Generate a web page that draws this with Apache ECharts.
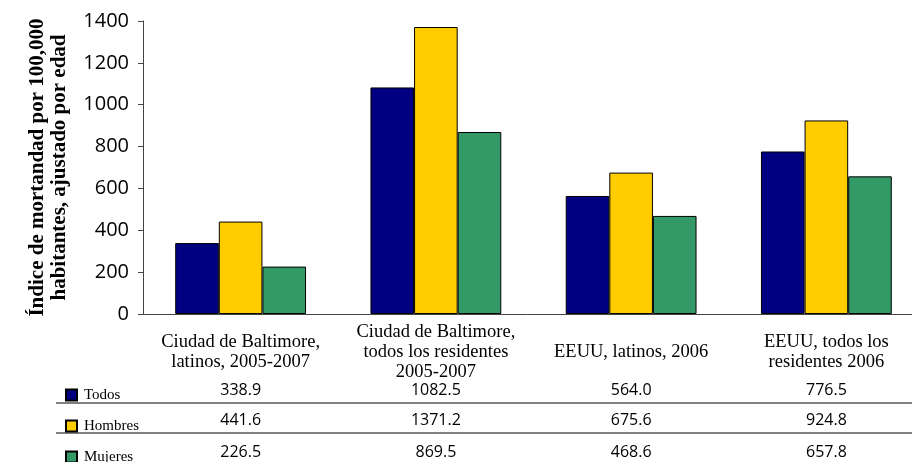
<!DOCTYPE html>
<html>
<head>
<meta charset="utf-8">
<script src="https://cdn.jsdelivr.net/npm/echarts@6/dist/echarts.min.js"></script>
<style>
  html, body { margin: 0; padding: 0; background: #fff; }
  #chart { width: 912px; height: 462px; }
</style>
</head>
<body>
<div id="chart"></div>
<script>
// categorias del eje x
var categories = [
  'Ciudad de Baltimore,\nlatinos, 2005-2007',
  'Ciudad de Baltimore,\ntodos los residentes\n2005-2007',
  'EEUU, latinos, 2006',
  'EEUU, todos los\nresidentes 2006'
];
var seriesNames = ['Todos', 'Hombres', 'Mujeres'];
var todos = [338.9, 1082.5, 564.0, 776.5];
var hombres = [441.6, 1371.2, 675.6, 924.8];
var mujeres = [226.5, 869.5, 468.6, 657.8];
var yTicks = [0, 200, 400, 600, 800, 1000, 1200, 1400];

var colors = ['#000080', '#ffcc00', '#339966'];
var serif = '"Liberation Serif", "Times New Roman", serif';
var sans = '"Open Sans", "Liberation Sans", sans-serif';

var chart = echarts.init(document.getElementById('chart'));

var fmt = function(arr) {
  return arr.map(function(v) { return v.toFixed(1); });
};

// filas de la tabla como ejes x extra
var tableRows = [todos, hombres, mujeres];
var rowMargins = [76, 106, 138];
var tableAxes = tableRows.map(function(row, i) {
  return {
    type: 'category',
    gridIndex: 0,
    position: 'bottom',
    data: fmt(row),
    axisLine: { show: false },
    axisTick: { show: false },
    axisLabel: {
      interval: 0,
      hideOverlap: false,
      margin: rowMargins[i],
      verticalAlign: 'middle',
      color: '#000',
      fontFamily: sans,
      fontSize: 16
    }
  };
});

var mkSeries = function(name, data, i) {
  return {
    name: name,
    type: 'bar',
    data: data,
    barGap: 0,
    barCategoryGap: '33%',
    itemStyle: { color: colors[i], borderColor: '#000', borderWidth: 1 },
    emphasis: { disabled: true }
  };
};

// una leyenda por fila, alineada con la tabla
var legendTops = [382, 408, 441];
var legendPads = [[0, 0, 0, 2], [10, 0, 0, 2], [6, 0, 0, 2]];
var legends = seriesNames.map(function(name, i) {
  return {
    left: 60,
    top: legendTops[i],
    icon: 'rect',
    itemWidth: 11,
    itemHeight: 11,
    data: [name],
    selectedMode: false,
    textStyle: { fontFamily: serif, fontSize: 15, color: '#000', lineHeight: 16, padding: legendPads[i] }
  };
});

var option = {
  animation: false,
  grid: { left: 143, top: 21, width: 781, height: 293, outerBoundsMode: 'none' },
  legend: legends,
  xAxis: [{
    type: 'category',
    data: categories,
    axisLine: { lineStyle: { color: '#444', width: 1 } },
    axisTick: { show: false },
    axisLabel: {
      interval: 0,
      hideOverlap: false,
      margin: 38,
      verticalAlign: 'middle',
      color: '#000',
      fontFamily: serif,
      fontSize: 18.5,
      lineHeight: 20
    }
  }].concat(tableAxes),
  yAxis: {
    type: 'value',
    min: yTicks[0],
    max: yTicks[yTicks.length - 1],
    interval: 200,
    name: 'Índice de mortandad por 100,000\nhabitantes, ajustado por edad',
    nameLocation: 'middle',
    nameRotate: 90,
    nameGap: 72,
    nameTextStyle: { fontFamily: serif, fontSize: 21, fontWeight: 'bold', color: '#000', lineHeight: 22 },
    axisLine: { show: true, lineStyle: { color: '#444', width: 1 } },
    axisTick: { show: true, length: 5, lineStyle: { color: '#444' } },
    splitLine: { show: false },
    axisLabel: {
      margin: 14, color: '#000', fontFamily: sans, fontSize: 20,
      formatter: function(v) { return String(v); }
    }
  },
  graphic: [
    { type: 'line', shape: { x1: 56, y1: 403, x2: 912, y2: 403 }, style: { stroke: '#000', lineWidth: 1 } },
    { type: 'line', shape: { x1: 56, y1: 433, x2: 912, y2: 433 }, style: { stroke: '#000', lineWidth: 1 } }
  ],
  series: [
    mkSeries(seriesNames[0], todos, 0),
    mkSeries(seriesNames[1], hombres, 1),
    mkSeries(seriesNames[2], mujeres, 2)
  ]
};

chart.setOption(option);
</script>
</body>
</html>
